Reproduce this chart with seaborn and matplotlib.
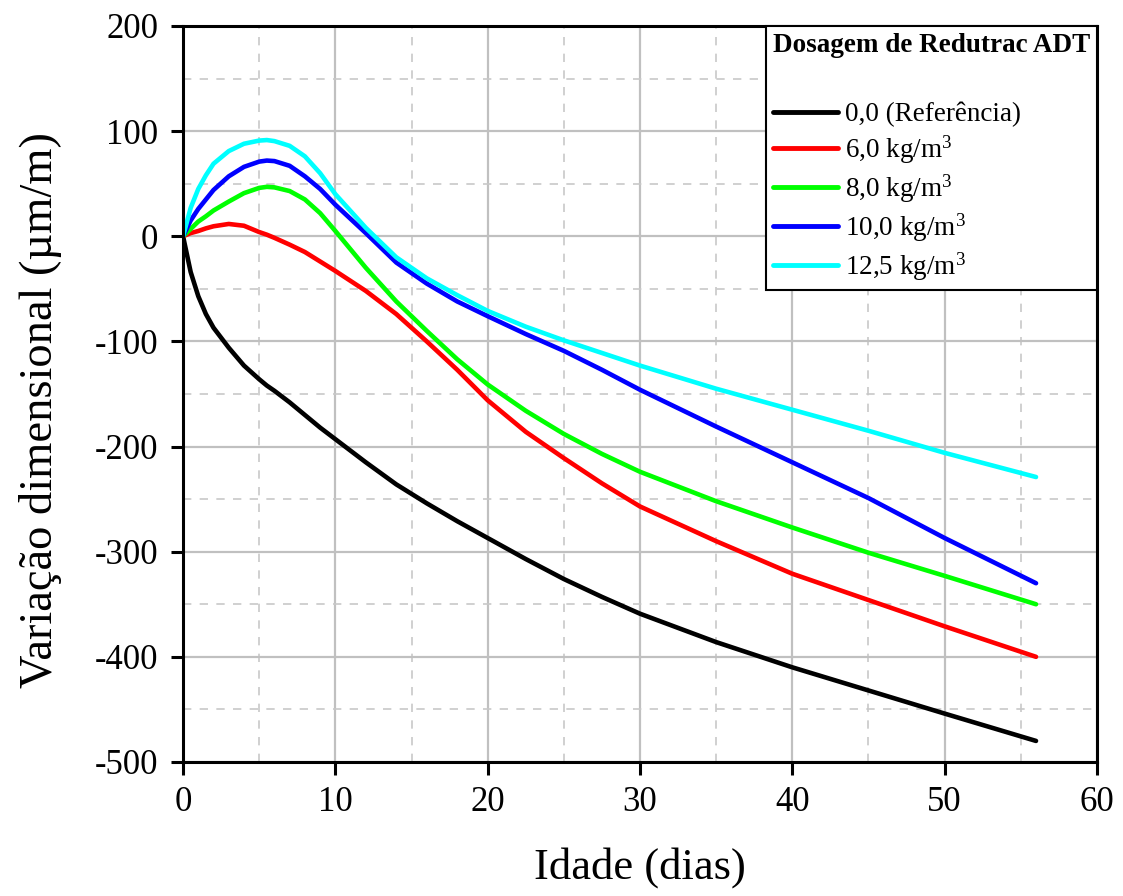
import pandas as pd
import matplotlib
matplotlib.use("Agg")
import matplotlib.pyplot as plt
from matplotlib.ticker import MultipleLocator
import seaborn as sns

# ── Data ──────────────────────────────────────────────────────────────────────
idade = [0, 0.5, 1, 1.5, 2, 3, 4, 5, 5.5, 6, 7, 8, 9, 10, 12, 14, 16, 18,
         20, 22.5, 25, 27.5, 30, 35, 40, 45, 50, 56]

ref_00 = [0, -34, -57, -74, -87, -106, -123, -136, -142, -147, -158, -170, -182,
          -193, -215, -236, -254, -271, -287, -307, -326, -343, -359, -386,
          -410, -432, -454, -480]
dose_60 = [0, 3, 5, 7.5, 9.5, 11.7, 10, 4, 1.5, -1.5, -8, -15, -24, -33, -52,
           -74, -100, -127, -156, -186, -211, -235, -257, -290, -321, -346,
           -371, -400]
dose_80 = [0, 7, 14, 19, 24.5, 33, 41, 46, 47, 46.5, 43, 35, 22, 5, -30, -62,
           -90, -117, -141, -166, -188, -207, -224, -252, -277, -301, -323,
           -350]
dose_100 = [0, 15, 26, 35, 44, 57, 66, 71, 72, 71.5, 67, 57, 45, 30, 3, -25,
            -45, -62, -76, -93, -109, -127, -146, -181, -215, -249, -287, -330]
dose_125 = [0, 27, 45, 58, 69, 81, 88, 91, 91.5, 90.5, 86, 76, 60, 40, 8, -20,
            -40, -56, -71, -86, -99, -111, -123, -145, -165, -185, -206, -229]

labels = ["0,0 (Referência)", "6,0 kg/m$^3$", "8,0 kg/m$^3$",
          "10,0 kg/m$^3$", "12,5 kg/m$^3$"]
colors = ["#000000", "#ff0000", "#00ff00", "#0000ff", "#00ffff"]

frames = []
for lab, vals in zip(labels, [ref_00, dose_60, dose_80, dose_100, dose_125]):
    frames.append(pd.DataFrame({"idade": idade, "variacao": vals, "dosagem": lab}))
df = pd.concat(frames, ignore_index=True)

# ── Style ─────────────────────────────────────────────────────────────────────
sns.set_style("ticks")
plt.rcParams["font.family"] = ["Liberation Serif", "DejaVu Serif"]
plt.rcParams["mathtext.fontset"] = "custom"
plt.rcParams["mathtext.rm"] = "Liberation Serif"
plt.rcParams["mathtext.default"] = "regular"
plt.rcParams["axes.unicode_minus"] = False
for key in ["text.color", "axes.labelcolor", "xtick.color", "ytick.color",
            "xtick.labelcolor", "ytick.labelcolor"]:
    plt.rcParams[key] = "black"

fig = plt.figure(figsize=(11.23, 8.96), dpi=100)
ax = fig.add_axes([0.163, 0.1496, 0.8138, 0.8214])

sns.lineplot(data=df, x="idade", y="variacao", hue="dosagem",
             hue_order=labels, palette=colors, linewidth=3.3, ax=ax,
             sort=False, estimator=None, solid_joinstyle="round",
             solid_capstyle="round")

ax.set_xlim(0, 60)
ax.set_ylim(-500, 200)
ax.xaxis.set_major_locator(MultipleLocator(10))
ax.xaxis.set_minor_locator(MultipleLocator(5))
ax.yaxis.set_major_locator(MultipleLocator(100))
ax.yaxis.set_minor_locator(MultipleLocator(50))

ax.grid(which="major", color="#c0c0c0", linewidth=1.6, linestyle="-")
ax.grid(which="minor", color="#c8c8c8", linewidth=1.2, linestyle=(0, (5, 5)))
ax.set_axisbelow(True)

for sp in ax.spines.values():
    sp.set_color("black")
    sp.set_linewidth(2.2)
    sp.set_visible(True)

ax.tick_params(which="major", direction="out", length=9, width=2.2,
               labelsize=25, color="black", labelcolor="black")
ax.tick_params(axis="x", which="major", pad=8)
ax.tick_params(axis="y", which="major", pad=9)
ax.tick_params(which="minor", length=0)

ax.set_xlabel("Idade (dias)", fontsize=32)
ax.set_ylabel("Variação dimensional (µm/m)", fontsize=33.5)
ax.xaxis.set_label_coords(0.5, -0.115)
ax.yaxis.set_label_coords(-0.133, 0.478)

handles, labs = ax.get_legend_handles_labels()
for h in handles:
    h.set_linewidth(3.5)
leg = ax.legend(handles, labs, loc="upper right", borderaxespad=0,
                title="Dosagem de Redutrac ADT\n", fontsize=19.5,
                title_fontproperties={"weight": "bold", "size": 19.5},
                frameon=True, fancybox=False, framealpha=1,
                edgecolor="black", handlelength=2.4, handletextpad=0.25,
                labelspacing=0.24, borderpad=0.25)
leg.get_title().set_linespacing(1.65)
leg.get_frame().set_linewidth(1.5)
leg._legend_box.align = "left"

fig.savefig("out.png", dpi=100)
